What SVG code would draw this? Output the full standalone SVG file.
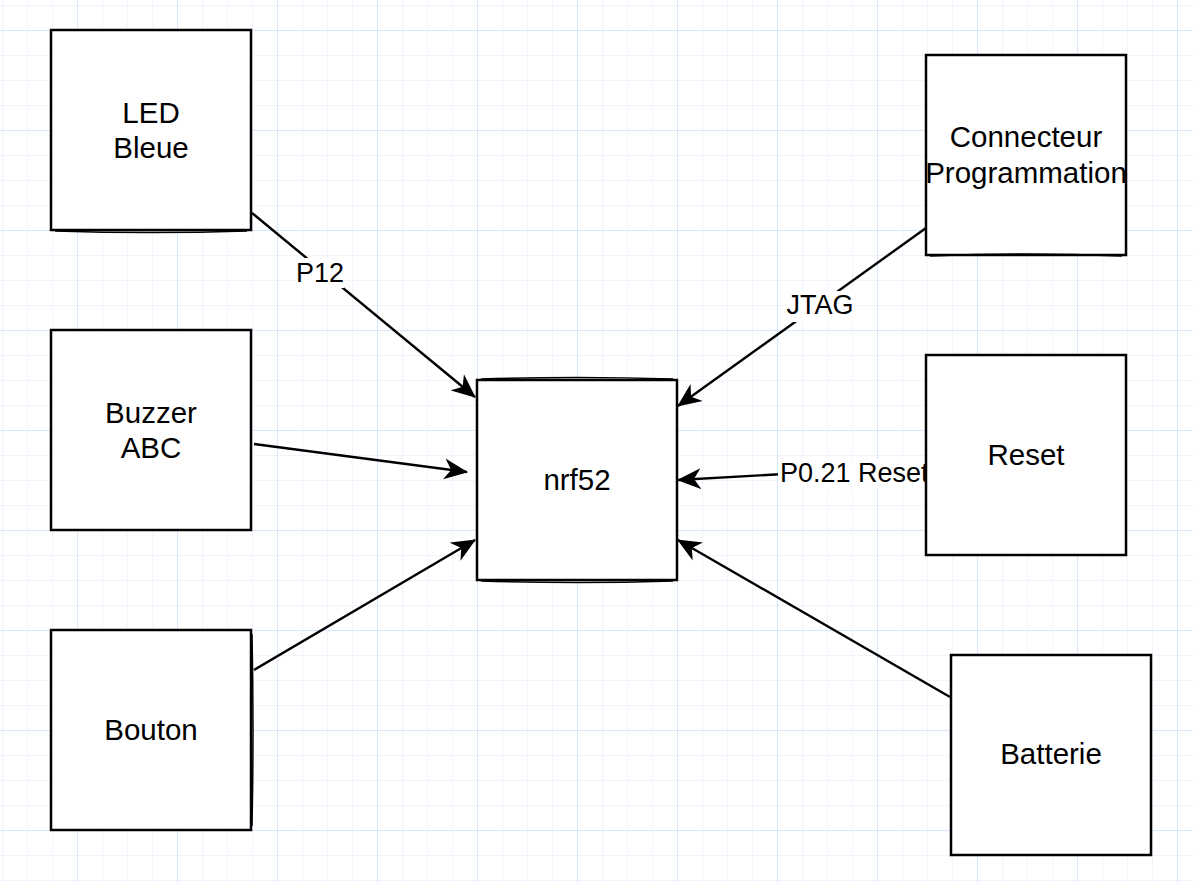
<svg xmlns="http://www.w3.org/2000/svg" width="1193" height="882" viewBox="0 0 1193 882">
  <style>
    .box { fill: #ffffff; stroke: #000000; stroke-width: 2.5; }
    .sk { fill: none; stroke: #000000; stroke-width: 1.5; }
    .nt { font-family: "Liberation Sans", Arial, sans-serif; font-size: 29.5px; fill: #000000; text-anchor: middle; }
    .edge { fill: none; stroke: #000000; stroke-width: 2.4; marker-end: url(#arrow); }
    .lbg { fill: #ffffff; }
    .lt { font-family: "Liberation Sans", Arial, sans-serif; font-size: 27px; fill: #000000; text-anchor: middle; }
  </style>
  <defs>
    <pattern id="grid" width="100" height="100" patternUnits="userSpaceOnUse" x="77" y="30">
      <path d="M25.5 0V100M50.5 0V100M75.5 0V100M0 25.5H100M0 50.5H100M0 75.5H100" stroke="#eef5fe" stroke-width="1" fill="none"/>
      <path d="M0.5 0V100M0 0.5H100" stroke="#d8e8fc" stroke-width="1" fill="none"/>
    </pattern>
    <marker id="arrow" viewBox="0 0 25 22" refX="23" refY="11" markerWidth="25" markerHeight="22" markerUnits="userSpaceOnUse" orient="auto">
      <path d="M24,11 L0,0.5 L7,11 L0,21.5 Z" fill="#000000"/>
    </marker>
  </defs>
  <rect x="0" y="0" width="1193" height="882" fill="#ffffff"/>
  <rect x="0" y="0" width="1193" height="882" fill="url(#grid)"/>

  <g id="connectors">
    <line class="edge" x1="252" y1="213" x2="475" y2="397"/>
    <rect class="lbg" x="296" y="258" width="48" height="30"/>
    <text class="lt" x="320" y="282">P12</text>

    <line class="edge" x1="254" y1="444" x2="467" y2="472"/>

    <line class="edge" x1="254" y1="670" x2="475" y2="540"/>

    <line class="edge" x1="926" y1="228" x2="678" y2="406"/>
    <rect class="lbg" x="786" y="291" width="68" height="31"/>
    <text class="lt" x="820" y="314">JTAG</text>

    <line class="edge" x1="926" y1="466" x2="678" y2="480"/>
    <rect class="lbg" x="778" y="459" width="150" height="30"/>
    <text class="lt" x="780" y="482" style="text-anchor:start">P0.21 Reset</text>

    <line class="edge" x1="950" y1="697" x2="678" y2="540"/>
  </g>

  <g id="node-led">
    <rect class="box" x="51" y="30" width="200" height="200"/>
    <path class="sk" d="M55,231 Q151,234 247,231"/>
    <text class="nt" x="151" y="123">LED</text>
    <text class="nt" x="151" y="158">Bleue</text>
  </g>
  <g id="node-buzzer">
    <rect class="box" x="51" y="330" width="200" height="200"/>
    <text class="nt" x="151" y="423">Buzzer</text>
    <text class="nt" x="151" y="458">ABC</text>
  </g>
  <g id="node-bouton">
    <rect class="box" x="51" y="630" width="200" height="200"/>
    <path class="sk" d="M252,634 Q254,730 252,826"/>
    <text class="nt" x="151" y="740">Bouton</text>
  </g>
  <g id="node-nrf52">
    <rect class="box" x="477" y="380" width="200" height="200"/>
    <path class="sk" d="M481,379 Q577,376 673,379"/>
    <path class="sk" d="M481,581 Q577,584 673,581"/>
    <text class="nt" x="577" y="490">nrf52</text>
  </g>
  <g id="node-connecteur">
    <rect class="box" x="926" y="55" width="200" height="200"/>
    <path class="sk" d="M930,256 Q1026,252 1122,256"/>
    <text class="nt" x="1026" y="147">Connecteur</text>
    <text class="nt" x="1026" y="183">Programmation</text>
  </g>
  <g id="node-reset">
    <rect class="box" x="926" y="355" width="200" height="200"/>
    <text class="nt" x="1026" y="465">Reset</text>
  </g>
  <g id="node-batterie">
    <rect class="box" x="951" y="655" width="200" height="200"/>
    <text class="nt" x="1051" y="764">Batterie</text>
  </g>
</svg>
